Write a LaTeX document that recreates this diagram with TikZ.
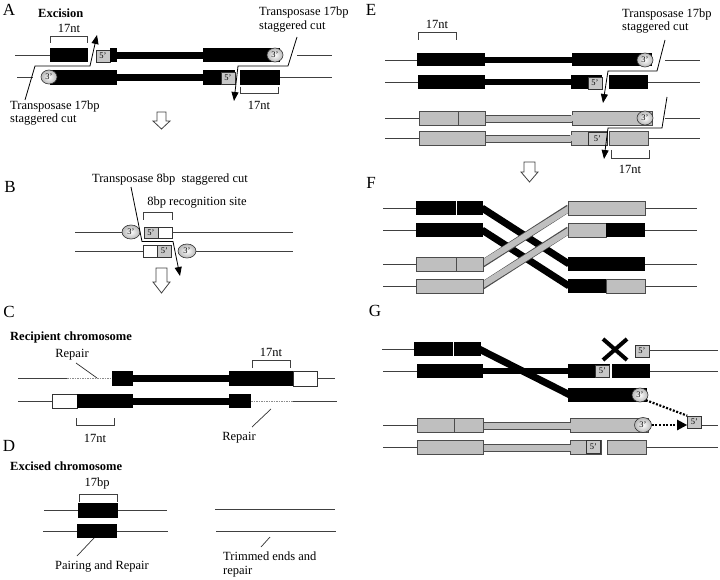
\documentclass[tikz,border=0pt]{standalone}
\usepackage{fontspec}
\setmainfont{Liberation Serif}
\usetikzlibrary{shapes.geometric,arrows.meta}
\tikzset{
 thinl/.style={draw=black!75, line width=0.9pt},
 gry/.style={fill=black!25, draw=black!70, line width=0.7pt},
 wht/.style={fill=white, draw=black!80, line width=0.7pt},
 divl/.style={draw=black!70, line width=0.7pt},
 divw/.style={draw=white, line width=0.6pt},
 fivebox/.style={rectangle, draw=black!80, fill=black!22, line width=0.6pt, minimum width=14pt, minimum height=12pt, inner sep=0pt, font=\fontsize{8.5}{9}\selectfont},
 threeell/.style={ellipse, draw=black!80, line width=0.6pt, shading=radial, inner color=white, outer color=black!28, minimum width=16pt, minimum height=14pt, inner sep=0pt, font=\fontsize{8.5}{9}\selectfont},
 lbl/.style={font=\fontsize{12.5}{13.5}\selectfont, inner sep=0pt},
 lbll/.style={lbl, align=left, anchor=west},
 panel/.style={font=\fontsize{17}{18}\selectfont, inner sep=0pt},
 boldl/.style={font=\bfseries\fontsize{12.5}{14}\selectfont, inner sep=0pt, anchor=west},
 brk/.style={draw=black!75, line width=0.8pt},
 cut/.style={draw=black, line width=0.8pt},
 cutarrow/.style={cut, -{Triangle[length=9pt,width=7pt]}},
 hollow/.style={draw=black!75, fill=white, line width=0.8pt},
 rep/.style={draw=black!45, dash pattern=on 1.5pt off 1pt, line width=0.8pt},
 pointer/.style={draw=black!80, line width=0.7pt},
 blkbar/.style={draw=black, line width=7pt},
 dotl/.style={draw=black, line width=2.2pt, dash pattern=on 2pt off 1.6pt},
}
\begin{document}
\begin{tikzpicture}[x=1pt,y=-1pt]
\useasboundingbox (0,0) rectangle (720,580);

% ================= Panel A =================
\node[panel] (pA) at (9,10) {A};
\node[boldl] (tA) at (38,13) {Excision};
% top strand
\draw[thinl] (15,55) -- (50,55);
\fill (50,48) rectangle (88,62);
\node[fivebox] (a5t) at (103,56) {5'};
\fill (110,48) rectangle (117,62);
\fill (117,52) rectangle (203,59);
\fill (203,48) rectangle (280,62);
\node[threeell] (a3t) at (275,55) {3'};
\draw[thinl] (297,55) -- (332,55);
% bottom strand
\draw[thinl] (17,77) -- (33,77);
\fill (50,70) rectangle (117,85);
\node[threeell] (a3b) at (49,77) {3'};
\fill (117,74) rectangle (203,81);
\fill (203,70) rectangle (235,85);
\node[fivebox] (a5b) at (228,78) {5'};
\fill (240,70) rectangle (280,85);
\draw[thinl] (280,77) -- (332,77);
% brackets
\draw[brk] (50,43) -- (50,36) -- (87,36) -- (87,43);
\node[lbl] (a17a) at (69,28) {17nt};
\draw[brk] (240,87) -- (240,93) -- (278,93) -- (278,87);
\node[lbl] (a17b) at (259,105) {17nt};
% cut labels
\node[lbll] (aLl) at (10,113) {Transposase 17bp\\staggered cut};
\node[lbll] (aRl) at (259,19.5) {Transposase 17bp\\staggered cut};
\coordinate (acl1) at (25,100);
\coordinate (acl2) at (35,66);
\coordinate (acl3) at (90,66);
\coordinate (acl4) at (97,35);
\draw[cutarrow] (acl1) -- (acl2) -- (acl3) -- (acl4);
\coordinate (acr1) at (297,37);
\coordinate (acr2) at (288,66);
\coordinate (acr3) at (238,66);
\coordinate (acr4) at (234,101);
\draw[cutarrow] (acr1) -- (acr2) -- (acr3) -- (acr4);
% hollow arrow
\draw[hollow] (157,112) -- (166,112) -- (166,121) -- (170,121) -- (161.5,129) -- (153,121) -- (157,121) -- cycle;

% ================= Panel B =================
\node[panel] (pB) at (10,187) {B};
\node[lbl] (bT) at (170,180) {Transposase 8bp\ \ staggered cut};
\node[lbl] (bR) at (197,203) {8bp recognition site};
\draw[brk] (143,220) -- (143,212) -- (172,212) -- (172,220);
% top strand
\draw[thinl] (75,232) -- (124,232);
\node[threeell, minimum width=18pt] (b3t) at (131,232) {3'};
\node[fivebox, minimum height=11pt] (b5t) at (151,232.5) {5'};
\draw[wht] (158,227) rectangle (172,238);
\draw[thinl] (172,232) -- (293,232);
% bottom strand
\draw[thinl] (75,251) -- (143,251);
\draw[wht] (143,245) rectangle (157,257);
\node[fivebox] (b5b) at (164.5,251) {5'};
\draw[thinl] (196,251) -- (293,251);
\node[threeell, minimum width=18pt] (b3b) at (187,251) {3'};
% cut
\coordinate (bc1) at (131,187);
\coordinate (bc2) at (142,241.5);
\coordinate (bc3) at (173,241.5);
\coordinate (bc4) at (180,276);
\draw[cutarrow] (bc1) -- (bc2) -- (bc3) -- (bc4);
% hollow arrow
\draw[hollow] (156,268) -- (167,268) -- (167,282) -- (170,282) -- (161.5,293) -- (153,282) -- (156,282) -- cycle;

% ================= Panel C =================
\node[panel] (pC) at (9,312) {C};
\node[boldl] (tC) at (10,337) {Recipient chromosome};
% top strand
\draw[thinl] (18,378) -- (67,378);
\draw[rep] (67,378) -- (112,378);
\fill (112,371) rectangle (133,386);
\fill (133,375) rectangle (229,382);
\fill (229,371) rectangle (293,386);
\draw[wht] (293,371) rectangle (317,386);
\draw[thinl] (317,378) -- (335,378);
% bottom strand
\draw[thinl] (18,401) -- (52,401);
\draw[wht] (52,394) rectangle (77,408);
\fill (77,394) rectangle (133,408);
\fill (133,398) rectangle (229,405);
\fill (229,394) rectangle (251,408);
\draw[rep] (251,401) -- (293,401);
\draw[thinl] (293,401) -- (337,401);
% brackets
\draw[brk] (252,368) -- (252,360) -- (290,360) -- (290,368);
\node[lbl] (c17a) at (271,352) {17nt};
\draw[brk] (76,418) -- (76,425) -- (114,425) -- (114,418);
\node[lbl] (c17b) at (95,438) {17nt};
% repair labels
\node[lbl] (cRa) at (72,355) {Repair};
\coordinate (cRa2) at (97,378);
\draw[pointer] (76,363) -- (cRa2);
\node[lbl] (cRb) at (239,438) {Repair};
\coordinate (cRb2) at (271,409);
\draw[pointer] (252,427) -- (cRb2);

% ================= Panel D =================
\node[panel] (pD) at (9,446) {D};
\node[boldl] (tD) at (10,466) {Excised chromosome};
\node[lbl] (d17) at (97,483) {17bp};
\draw[brk] (79,502) -- (79,494) -- (117,494) -- (117,502);
\draw[thinl] (44,510) -- (78,510);
\fill (78,503) rectangle (118,518);
\draw[thinl] (118,510) -- (167,510);
\draw[thinl] (43,531) -- (77,531);
\fill (77,524) rectangle (117,538);
\draw[thinl] (117,531) -- (168,531);
\node[lbl] (dPR) at (102,567) {Pairing and Repair};
\coordinate (dPR2) at (94,538);
\draw[pointer] (77,556) -- (dPR2);
\draw[thinl] (215,509) -- (335,509);
\draw[thinl] (216,531) -- (336,531);
\node[lbll] (dTr) at (223,564.5) {Trimmed ends and\\repair};
\coordinate (dTr2) at (270,537);
\draw[pointer] (261,547) -- (dTr2);

% ================= Panel E =================
\node[panel] (pE) at (371,10) {E};
\node[lbl] (e17a) at (437,24) {17nt};
\draw[brk] (418,40) -- (418,32) -- (456,32) -- (456,40);
\node[lbll] (eRl) at (622,21) {Transposase 17bp\\staggered cut};
% strand 1
\draw[thinl] (385,60) -- (417,60);
\fill (417,53) rectangle (485,66);
\fill (485,57) rectangle (572,63);
\fill (572,53) rectangle (652,66);
\node[threeell] (e3a) at (645,60) {3'};
\draw[thinl] (665,60) -- (700,60);
% strand 2
\draw[thinl] (385,82) -- (418,82);
\fill (418,75) rectangle (485,89);
\fill (485,79) rectangle (571,85);
\fill (571,75) rectangle (602,89);
\node[fivebox] (e5a) at (595,83) {5'};
\fill (609,75) rectangle (648,89);
\draw[thinl] (648,82) -- (700,82);
% strand 3
\draw[thinl] (385,118) -- (419,118);
\draw[gry] (419,111) rectangle (485,125);
\draw[divl] (458,111) -- (458,125);
\draw[gry] (485,115) rectangle (572,122);
\draw[gry] (572,111) rectangle (652,125);
\fill[black!25] (571,115.5) rectangle (573,121.5);
\node[threeell] (e3b) at (645,118) {3'};
\draw[thinl] (665,118) -- (700,118);
% strand 4
\draw[thinl] (385,138) -- (419,138);
\draw[gry] (419,131) rectangle (485,145);
\draw[gry] (485,135) rectangle (571,142);
\draw[gry] (571,131) rectangle (607,145);
\fill[black!25] (570,135.5) rectangle (572,141.5);
\node[fivebox, minimum width=19pt, minimum height=13pt] (e5b) at (597.5,138.5) {5'};
\draw[gry] (609,131) rectangle (648,145);
\draw[thinl] (648,138) -- (700,138);
% cuts
\coordinate (ec1) at (665,40);
\coordinate (ec2) at (657,71);
\coordinate (ec3) at (608,71);
\coordinate (ec4) at (603,103);
\draw[cutarrow] (ec1) -- (ec2) -- (ec3) -- (ec4);
\coordinate (ed1) at (667,97);
\coordinate (ed2) at (662,128);
\coordinate (ed3) at (608,128);
\coordinate (ed4) at (604,159);
\draw[cutarrow] (ed1) -- (ed2) -- (ed3) -- (ed4);
\draw[brk] (611,150) -- (611,158) -- (649,158) -- (649,150);
\node[lbl] (e17b) at (630,169) {17nt};
% hollow arrow
\draw[hollow] (524,162) -- (535,162) -- (535,172) -- (538,172) -- (529.5,182) -- (521,172) -- (524,172) -- cycle;

% ================= Panel F =================
\node[panel] (pF) at (371,183) {F};
% crossing bars
\draw[blkbar] (482,208) -- (569,264);
\draw[blkbar] (482,230) -- (569,286);
\draw[draw=black!70, line width=7.6pt] (482,264) -- (569,208);
\draw[draw=black!25, line width=6pt] (481,264) -- (570,208);
\draw[draw=black!70, line width=7.6pt] (482,286) -- (569,230);
\draw[draw=black!25, line width=6pt] (481,286) -- (570,230);
% left blocks
\draw[thinl] (383,208) -- (416,208);
\fill (416,201) rectangle (483,215);
\draw[divw] (456,201) -- (456,215);
\draw[thinl] (383,230) -- (416,230);
\fill (416,223) rectangle (483,237);
\draw[thinl] (383,264) -- (416,264);
\draw[gry] (416,257) rectangle (483,271);
\draw[divl] (456,257) -- (456,271);
\draw[thinl] (383,286) -- (416,286);
\draw[gry] (416,279) rectangle (483,293);
% right blocks
\draw[gry] (568,201) rectangle (645,215);
\draw[thinl] (645,208) -- (697,208);
\draw[gry] (568,223) rectangle (606,237);
\fill (606,223) rectangle (645,237);
\draw[thinl] (645,230) -- (697,230);
\fill (568,257) rectangle (645,271);
\draw[thinl] (645,264) -- (697,264);
\fill (568,279) rectangle (606,293);
\draw[gry] (606,279) rectangle (645,293);
\draw[thinl] (645,286) -- (697,286);

% ================= Panel G =================
\node[panel] (pG) at (375,311) {G};
% row 2 (intact black)
\draw[thinl] (383,371) -- (417,371);
\fill (417,364) rectangle (483,378);
\fill (483,368) rectangle (568,374);
\fill (568,364) rectangle (610,378);
\node[fivebox] (g5a) at (602.5,371) {5'};
\fill (612,364) rectangle (650,378);
\draw[thinl] (650,371) -- (718,371);
% row 1
\draw[thinl] (382,349) -- (414,349);
\fill (414,342) rectangle (481,356);
\draw[divw] (453,342) -- (453,356);
\draw[blkbar] (479,349) -- (570,395);
% row 3
\fill (568,388) rectangle (647,402);
\node[threeell] (g3a) at (640,395) {3'};
% X mark
\draw[line width=4pt] (603,339) -- (627,360);
\draw[line width=4pt] (603,360) -- (627,339);
\node[fivebox] (g5b) at (642,351) {5'};
\draw[thinl] (649,350) -- (718,350);
% row 4
\draw[thinl] (383,425) -- (417,425);
\draw[gry] (417,418) rectangle (483,432);
\draw[divl] (454,418) -- (454,432);
\draw[gry] (483,422) rectangle (570,429);
\draw[gry] (570,418) rectangle (648,432);
\fill[black!25] (569,422.5) rectangle (571,428.5);
\node[threeell, minimum width=17pt, minimum height=15pt] (g3b) at (643,425) {3'};
\node[fivebox] (g5c) at (694.5,422) {5'};
\draw[thinl] (702,425) -- (718,425);
\draw[dotl, -{Triangle[length=10pt,width=10pt]}] (g3b.east) -- (g5c.west |- g3b.east);
\draw[dotl] (g3a.south east) -- (g5c.north west);
% row 5
\draw[thinl] (383,447) -- (417,447);
\draw[gry] (417,440) rectangle (483,454);
\draw[gry] (483,444) rectangle (570,451);
\draw[gry] (570,440) rectangle (601,454);
\fill[black!25] (569,444.5) rectangle (571,450.5);
\node[fivebox, minimum height=13pt] (g5d) at (593.5,447) {5'};
\draw[gry] (607,440) rectangle (646,454);
\draw[thinl] (646,447) -- (718,447);
\end{tikzpicture}
\end{document}
